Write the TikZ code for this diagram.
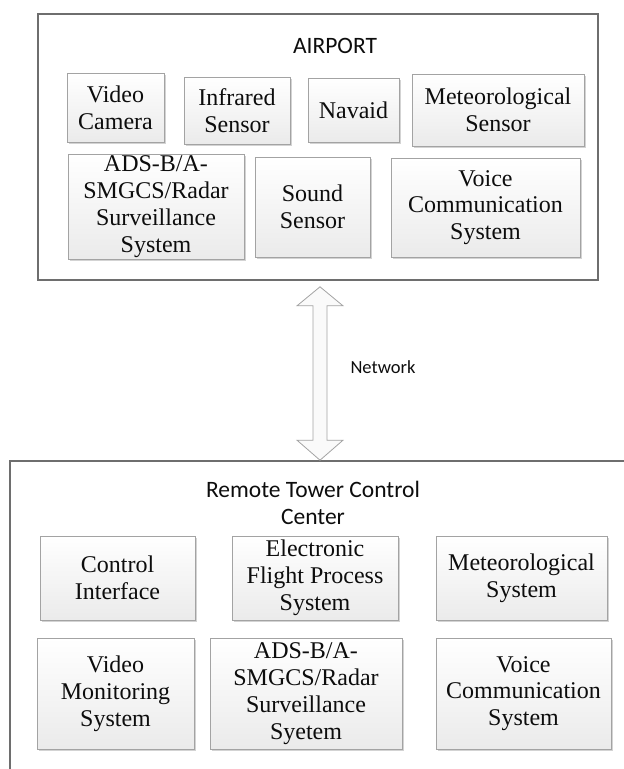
\documentclass[tikz,border=0pt]{standalone}
\usepackage{fontspec}
\setmainfont{Liberation Serif}
\setsansfont{Carlito}
\usetikzlibrary{calc,shadows}
\definecolor{framegray}{HTML}{6E6E6E}
\definecolor{unitgray}{HTML}{A3A3A3}
\begin{document}
\begin{tikzpicture}[x=1pt,y=-1pt,
  unit/.style={draw=unitgray,line width=0.8pt,top color=white,bottom color=gray!16,
    drop shadow={shadow xshift=1.5pt,shadow yshift=-1.5pt,opacity=0.35},
    align=center,inner sep=0pt,text=gray!10!black,font=\fontsize{24}{26.8}\selectfont},
  frame/.style={draw=framegray,line width=1.6pt,inner sep=0pt},
  title/.style={align=center,text=gray!10!black,font=\sffamily\fontsize{23.5}{27}\selectfont},
  netarrow/.style={draw=unitgray,fill=gray!4,line width=0.8pt}]

\useasboundingbox (0,0) rectangle (624,769);
\clip (0,0) rectangle (624,769);

% airport side
\node[frame,minimum width=560pt,minimum height=266pt] (airport) at (318,147) {};
\node[title] (airporttitle) at (335,46) {AIRPORT};

\node[unit,minimum width=97pt,minimum height=69pt] (videocam) at (115.5,107.5) {Video\\Camera};
\node[unit,minimum width=106pt,minimum height=67pt] (infrared) at (237,110.5) {Infrared\\Sensor};
\node[unit,minimum width=91pt,minimum height=64pt] (navaid) at (353.5,110) {Navaid};
\node[unit,minimum width=172pt,minimum height=72pt] (metsensor) at (498,110) {Meteorological\\Sensor};

\node[unit,minimum width=176pt,minimum height=105pt] (adsbair) at (156,206.5) {ADS-B/A-\\SMGCS/Radar\\Surveillance\\System};
\node[unit,minimum width=115pt,minimum height=100pt] (sound) at (312.5,207) {Sound\\Sensor};
\node[unit,minimum width=189pt,minimum height=99pt] (voiceair) at (485.5,207.5) {Voice\\Communication\\System};

% remote tower side
\node[frame,minimum width=630pt,minimum height=339pt] (rtcc) at (325,630.5) {};
\node[title] (rtcctitle) at (313,503) {Remote Tower Control\\Center};

\node[unit,minimum width=155pt,minimum height=84pt] (ctrlif) at (117.5,578) {Control\\Interface};
\node[unit,minimum width=166pt,minimum height=84pt] (efps) at (315,578) {Electronic\\Flight Process\\System};
\node[unit,minimum width=171pt,minimum height=84pt] (metsys) at (521.5,578) {Meteorological\\System};

\node[unit,minimum width=157pt,minimum height=111pt] (videomon) at (115.5,693.5) {Video\\Monitoring\\System};
\node[unit,minimum width=192pt,minimum height=111pt] (adsbrtcc) at (306,693.5) {ADS-B/A-\\SMGCS/Radar\\Surveillance\\Syetem};
\node[unit,minimum width=175pt,minimum height=111pt] (voicertcc) at (523.5,693.5) {Voice\\Communication\\System};

% network link
\coordinate (up) at ($(airport.south)+(2,6)$);
\coordinate (dn) at (up |- rtcc.north);
\draw[netarrow] (up) -- ++(23,19) -- ++(-16,0) -- ($(dn)+(7,-20)$) -- ($(dn)+(23,-20)$)
  -- (dn) -- ($(dn)+(-23,-20)$) -- ($(dn)+(-7,-20)$) -- ($(up)+(-7,19)$) -- ($(up)+(-23,19)$) -- cycle;
\node[anchor=west,text=gray!10!black,font=\sffamily\fontsize{18.5}{20}\selectfont] (network) at (347,367) {Network};

\end{tikzpicture}
\end{document}
